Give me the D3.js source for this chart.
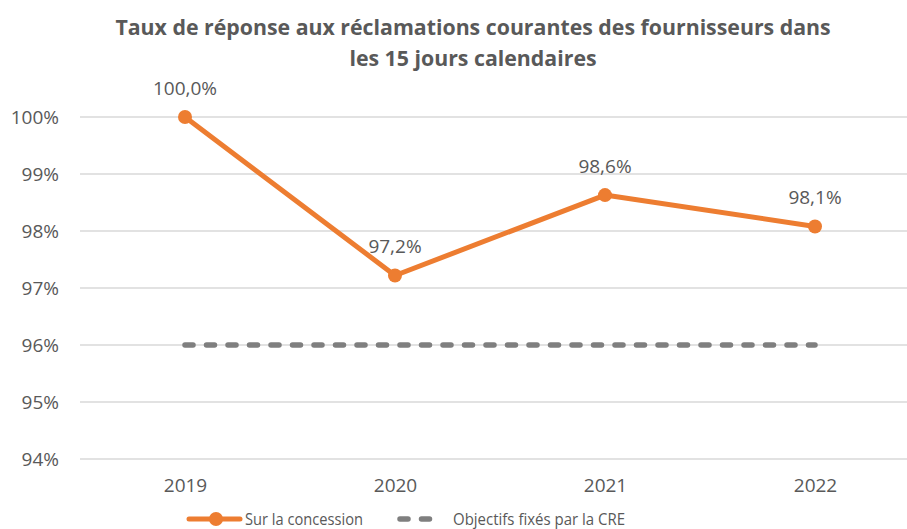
<!DOCTYPE html>
<html>
<head>
<meta charset="utf-8">
<script src="https://cdn.jsdelivr.net/npm/d3@7"></script>
<style>
  body { margin: 0; background: #fff; }
  text { font-family: "Open Sans", "Liberation Sans", sans-serif; fill: #595959; }
</style>
</head>
<body>
<div id="chart"></div>
<script>
// chart data
var years = ["2019", "2020", "2021", "2022"];
var tauxReponse = [100.0, 97.22, 98.63, 98.08];
var objectifs = [96, 96, 96, 96];
var yTicks = [94, 95, 96, 97, 98, 99, 100];
var seriesNames = ["Sur la concession", "Objectifs fixés par la CRE"];

var svgWidth = 907;
var svgHeight = 529;

var margin = { top: 117, right: 0, bottom: 70, left: 80 };
var chartWidth = 840;
var chartHeight = 459 - margin.top;

var svg = d3.select("#chart")
  .append("svg")
  .attr("width", svgWidth)
  .attr("height", svgHeight);

// title
var title = svg.append("text")
  .attr("x", 473)
  .attr("text-anchor", "middle")
  .attr("font-size", "21.3px")
  .attr("font-weight", "700");
title.append("tspan").attr("x", 473).attr("y", 35)
  .text("Taux de réponse aux réclamations courantes des fournisseurs dans");
title.append("tspan").attr("x", 473).attr("y", 66)
  .text("les 15 jours calendaires");

var chartGroup = svg.append("g")
  .attr("transform", `translate(${margin.left}, ${margin.top})`);

var xScale = d3.scalePoint()
  .domain(years)
  .range([0, chartWidth])
  .padding(0.5);

var yScale = d3.scaleLinear()
  .domain([94, 100])
  .range([chartHeight, 0]);

// gridlines
chartGroup.selectAll(".grid")
  .data(yTicks)
  .enter()
  .append("line")
  .attr("x1", 0)
  .attr("x2", svgWidth - margin.left)
  .attr("y1", d => yScale(d))
  .attr("y2", d => yScale(d))
  .attr("stroke", "#d9d9d9")
  .attr("stroke-width", 1.5);

// y axis
var leftAxis = d3.axisLeft(yScale)
  .tickValues(yTicks)
  .tickFormat(d => d + "%")
  .tickSize(0)
  .tickPadding(21);
chartGroup.append("g")
  .call(leftAxis)
  .call(g => g.select(".domain").remove())
  .selectAll("text")
  .attr("font-size", "19px")
  .attr("fill", "#595959")
  .style("font-family", "'Open Sans', 'Liberation Sans', sans-serif");

// x axis
var bottomAxis = d3.axisBottom(xScale).tickSize(0).tickPadding(19.5);
chartGroup.append("g")
  .attr("transform", `translate(0, ${chartHeight})`)
  .call(bottomAxis)
  .call(g => g.select(".domain").remove())
  .selectAll("text")
  .attr("font-size", "19px")
  .attr("fill", "#595959")
  .style("font-family", "'Open Sans', 'Liberation Sans', sans-serif");

var line = d3.line()
  .x((d, i) => xScale(years[i]))
  .y(d => yScale(d));

// objectifs dashed line
chartGroup.append("path")
  .datum(objectifs)
  .attr("d", line)
  .attr("fill", "none")
  .attr("stroke", "#7f7f7f")
  .attr("stroke-width", 5.5)
  .attr("stroke-linecap", "round")
  .attr("stroke-dasharray", "8,13.5");

// main series
chartGroup.append("path")
  .datum(tauxReponse)
  .attr("d", line)
  .attr("fill", "none")
  .attr("stroke", "#ed7d31")
  .attr("stroke-width", 5)
  .attr("stroke-linejoin", "round");

chartGroup.selectAll(".dot")
  .data(tauxReponse)
  .enter()
  .append("circle")
  .attr("cx", (d, i) => xScale(years[i]))
  .attr("cy", d => yScale(d))
  .attr("r", 7)
  .attr("fill", "#ed7d31");

// data labels
chartGroup.selectAll(".label")
  .data(tauxReponse)
  .enter()
  .append("text")
  .attr("x", (d, i) => xScale(years[i]))
  .attr("y", d => yScale(d) - 22)
  .attr("text-anchor", "middle")
  .attr("font-size", "19px")
  .text(d => d.toFixed(1).replace(".", ",") + "%");

// legend (narrow font in the original, squeezed here)
var legend = svg.append("g").attr("transform", "translate(0, 519)");
legend.append("line")
  .attr("x1", 189).attr("x2", 240)
  .attr("stroke", "#ed7d31").attr("stroke-width", 5).attr("stroke-linecap", "round");
legend.append("circle").attr("cx", 216).attr("r", 7).attr("fill", "#ed7d31");
legend.append("text")
  .attr("x", 245).attr("y", 6)
  .attr("font-size", "17px")
  .attr("textLength", 118)
  .attr("lengthAdjust", "spacingAndGlyphs")
  .text(seriesNames[0]);

legend.append("line")
  .attr("x1", 400).attr("x2", 442)
  .attr("stroke", "#7f7f7f").attr("stroke-width", 5.5).attr("stroke-linecap", "round")
  .attr("stroke-dasharray", "8,13.5");
legend.append("text")
  .attr("x", 453).attr("y", 6)
  .attr("font-size", "17px")
  .attr("textLength", 172)
  .attr("lengthAdjust", "spacingAndGlyphs")
  .text(seriesNames[1]);
</script>
</body>
</html>
